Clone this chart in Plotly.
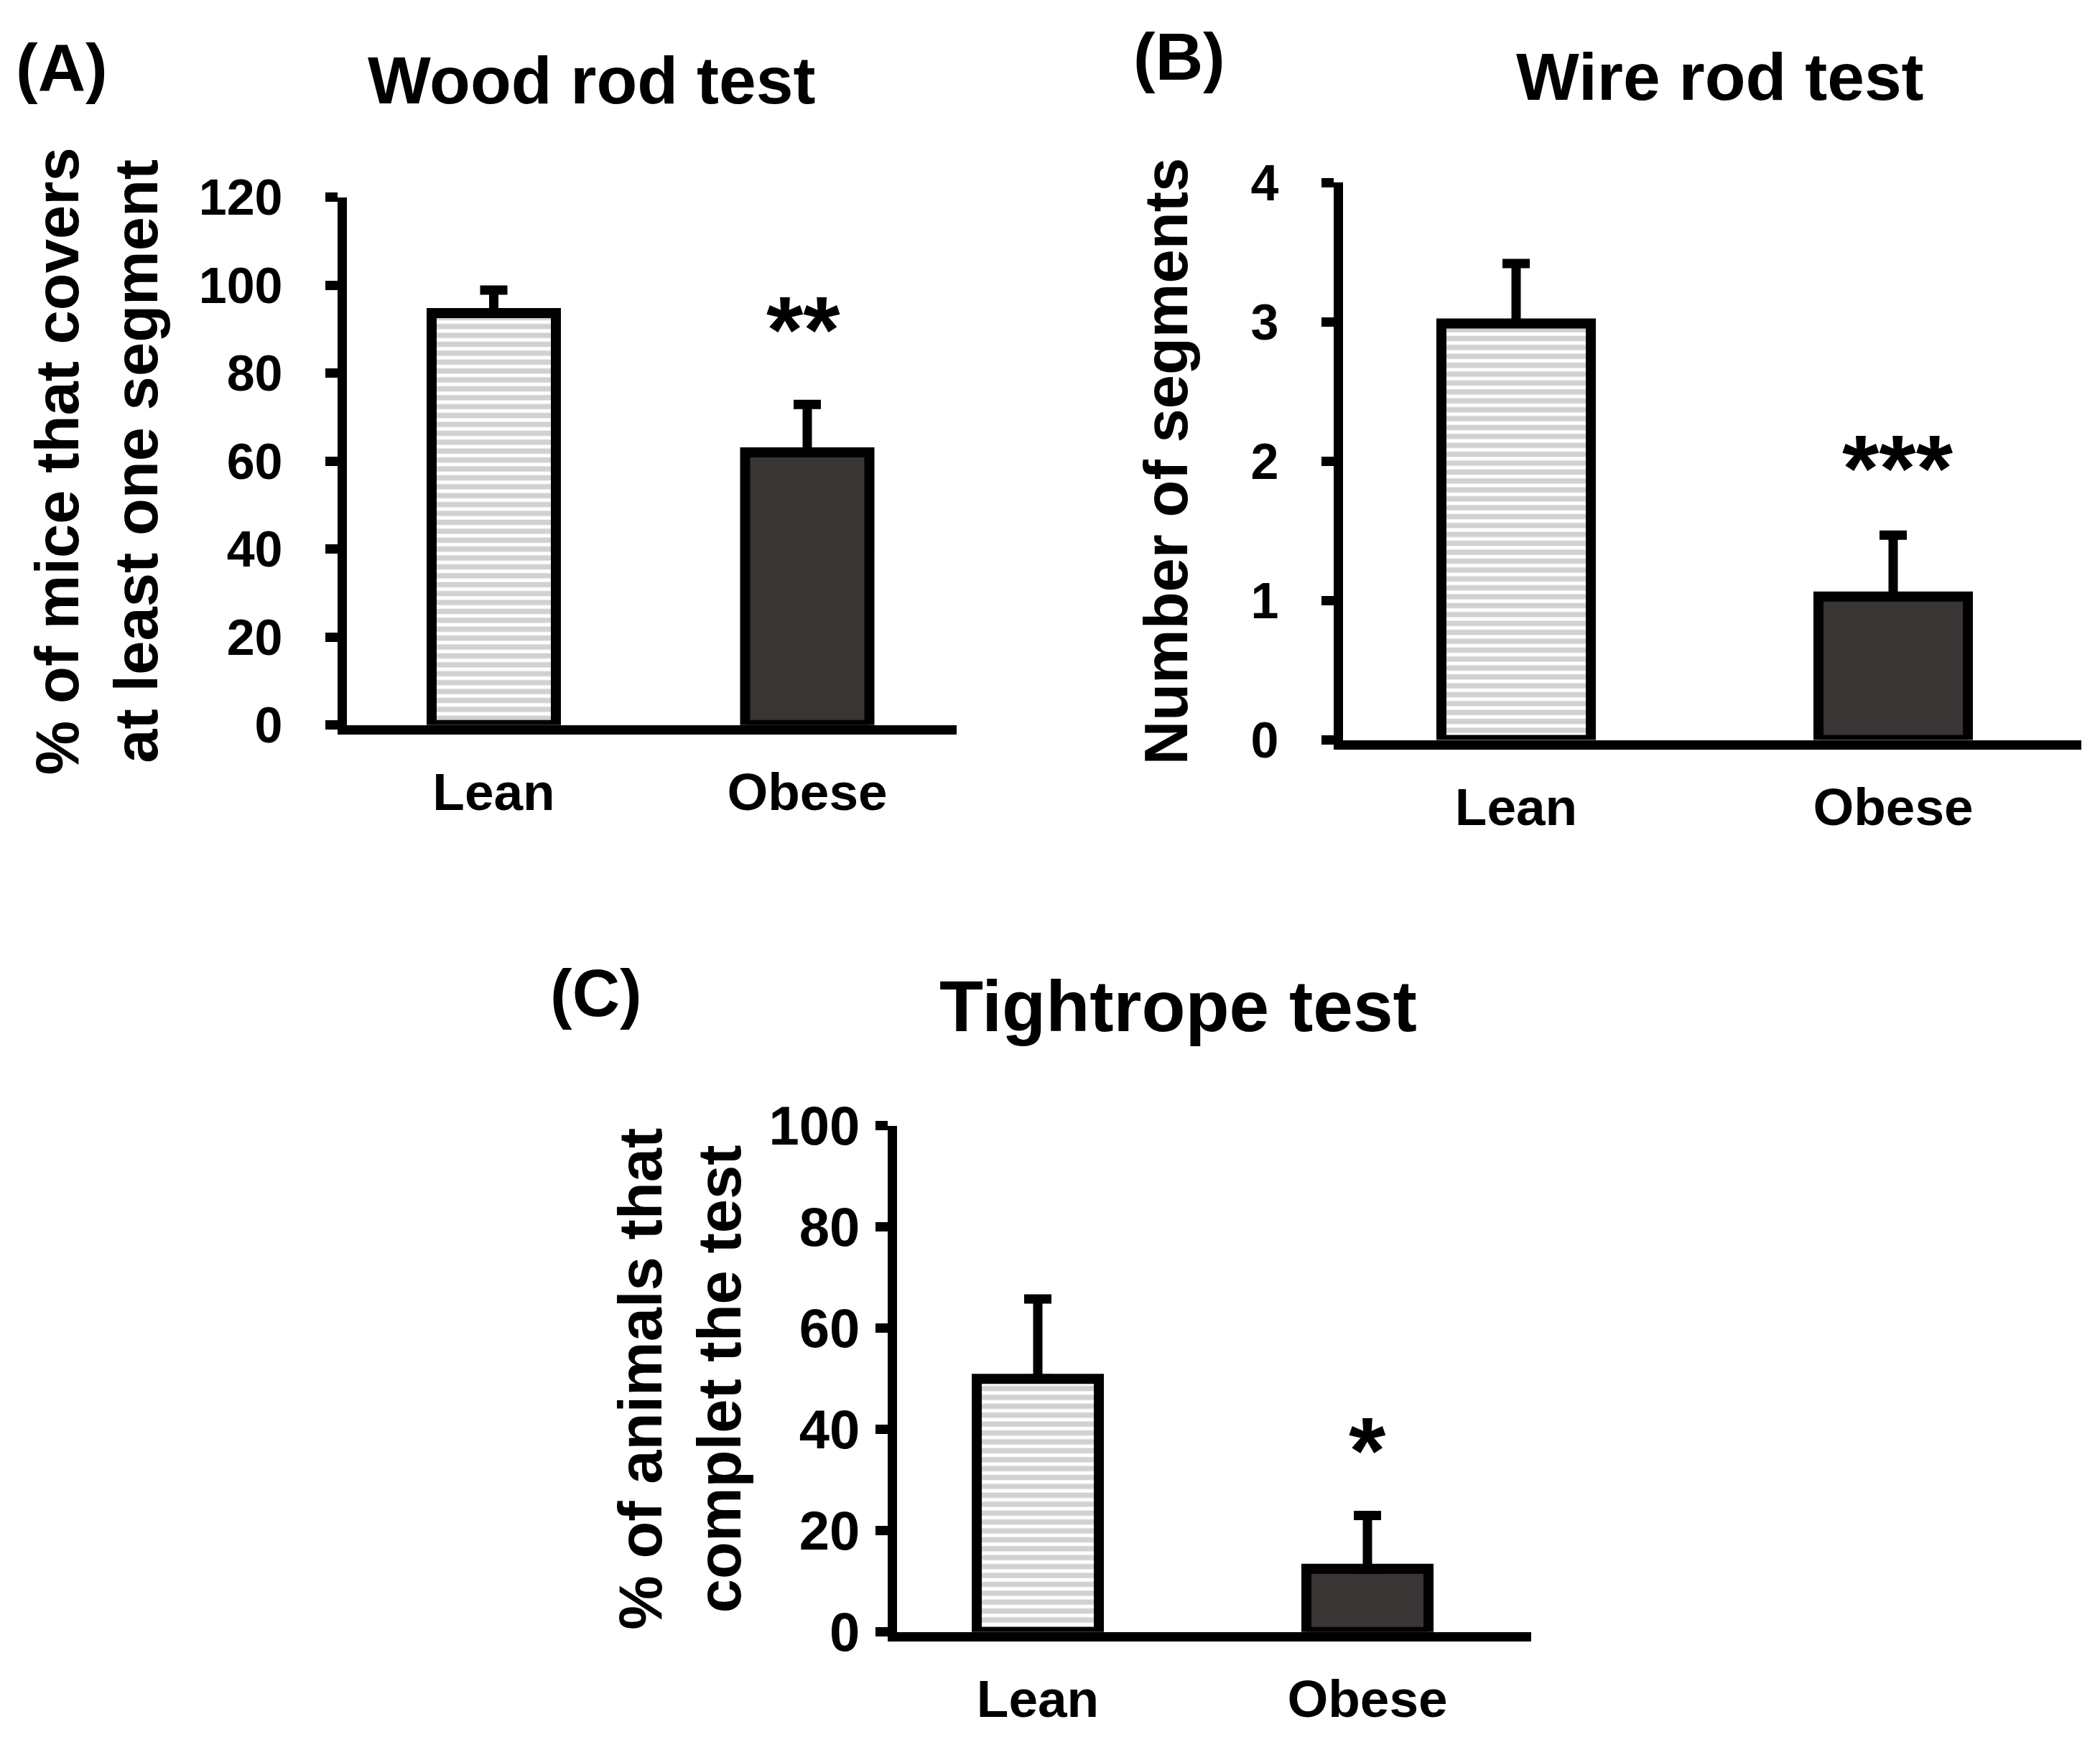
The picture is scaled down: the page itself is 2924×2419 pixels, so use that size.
import plotly.graph_objects as go

W, H = 2924, 2419
FONT = "Liberation Sans"

categories = ["Lean", "Obese"]

wood_values = [93.7, 62.0]
wood_errors = [5.2, 10.9]
wire_values = [2.99, 1.03]
wire_errors = [0.43, 0.44]
tight_values = [50.0, 12.5]
tight_errors = [15.8, 10.5]

wood_ticks = [0, 20, 40, 60, 80, 100, 120]
wire_ticks = [0, 1, 2, 3, 4]
tight_ticks = [0, 20, 40, 60, 80, 100]

stars = ["**", "***", "*"]
star_y = [89.9, 1.95, 35.8]
titles = ["Wood rod test", "Wire rod test", "Tightrope test"]
panel_labels = ["(A)", "(B)", "(C)"]
ytitles = ["% of mice that covers<br>at least one segment",
           "Number of segments",
           "% of animals that<br>complet the test"]

LW = 13
lean_style = dict(color="white", line=dict(color="black", width=14),
                  pattern=dict(shape="-", fgcolor="#a5a1a1", bgcolor="white",
                               size=12.4, solidity=0.6))
obese_style = dict(color="#393534", line=dict(color="black", width=14))

# vertical compensation for the renderer
SQ, OFF = 0.969, 45.7


def py(d):
    return 1 - ((d - OFF) / SQ) / H


# pixel geometry of each panel: y-axis x, x-axis end, top tick, zero line,
# centers of the two bars, bar width in px, label/title gaps, star shift
geom = [
    dict(ax=468, xend=1324, top=271.5, zero=1016, c0=679.5, c1=1116, bw=173,
         lstand=45, tstand=34, sx=-6, tick=70),
    dict(ax=1855, xend=2890, top=251, zero=1037, c0=2103, c1=2628, bw=208,
         lstand=45, tstand=65, sx=6, tick=70),
    dict(ax=1234, xend=2124, top=1570, zero=2284.5, c0=1437, c1=1896, bw=170,
         lstand=6, tstand=16, sx=0, tick=76),
]
yranges = [[0, 120], [0, 4], [0, 100]]
tickss = [wood_ticks, wire_ticks, tight_ticks]
valss = [wood_values, wire_values, tight_values]
errss = [wood_errors, wire_errors, tight_errors]

fig = go.Figure()
layout = {}
for i, g in enumerate(geom):
    n = "" if i == 0 else str(i + 1)
    xa, ya = "x" + n, "y" + n
    unit = g["c1"] - g["c0"]
    left = g["ax"] + LW / 2
    xr = [-(g["c0"] - left) / unit, 1 + (g["xend"] - g["c1"]) / unit]
    bw = g["bw"] / unit
    for j, cat in enumerate(categories):
        fig.add_trace(go.Bar(
            x=[cat], y=[valss[i][j]], xaxis=xa, yaxis=ya, width=bw,
            marker=lean_style if j == 0 else obese_style,
            error_y=dict(type="data", array=[errss[i][j]], arrayminus=[0],
                         symmetric=False, color="black", thickness=13, width=19),
            showlegend=False))
    layout["xaxis" + n] = dict(
        domain=[left / W, g["xend"] / W], anchor=ya, type="category", range=xr,
        showline=True, linecolor="black", linewidth=LW, ticks="",
        showgrid=False, zeroline=False,
        tickfont=dict(family=FONT, size=73, color="black", weight="bold"),
        ticklabelstandoff=18)
    layout["yaxis" + n] = dict(
        domain=[py(g["zero"] - LW / 2), py(g["top"])], anchor=xa,
        range=yranges[i], tickvals=tickss[i],
        showline=True, linecolor="black", linewidth=LW, ticks="outside",
        ticklen=17, tickwidth=LW, tickcolor="black", showgrid=False,
        zeroline=False, ticklabelstandoff=g["lstand"],
        tickfont=dict(family=FONT, size=g["tick"], color="black", weight="bold"),
        title=dict(text=ytitles[i], standoff=g["tstand"],
                   font=dict(family=FONT, size=85, color="black", weight="bold")))

annotations = []
title_pos = [(815, 108), (2387, 103), (1632, 1402)]
title_size = [93, 93, 100]
label_pos = [(78, 90), (1634, 75), (822, 1384)]
for i in range(3):
    n = "" if i == 0 else str(i + 1)
    annotations.append(dict(text=titles[i], x=title_pos[i][0] / W, y=py(title_pos[i][1]),
                            xref="paper", yref="paper", showarrow=False,
                            xanchor="center", yanchor="middle",
                            font=dict(family=FONT, size=title_size[i], color="black",
                                      weight="bold")))
    annotations.append(dict(text=panel_labels[i], x=label_pos[i][0] / W, y=py(label_pos[i][1]),
                            xref="paper", yref="paper", showarrow=False,
                            xanchor="center", yanchor="middle",
                            font=dict(family=FONT, size=92, color="black", weight="bold")))
    annotations.append(dict(text=stars[i], x=categories[1], y=star_y[i],
                            xref="x" + n, yref="y" + n, showarrow=False,
                            xanchor="center", yanchor="middle", xshift=geom[i]["sx"],
                            font=dict(family=FONT, size=132, color="black", weight="bold")))

fig.update_layout(
    width=W, height=H, margin=dict(l=0, r=0, t=0, b=0),
    paper_bgcolor="white", plot_bgcolor="white",
    annotations=annotations, **layout)

fig.write_html("out.html")
